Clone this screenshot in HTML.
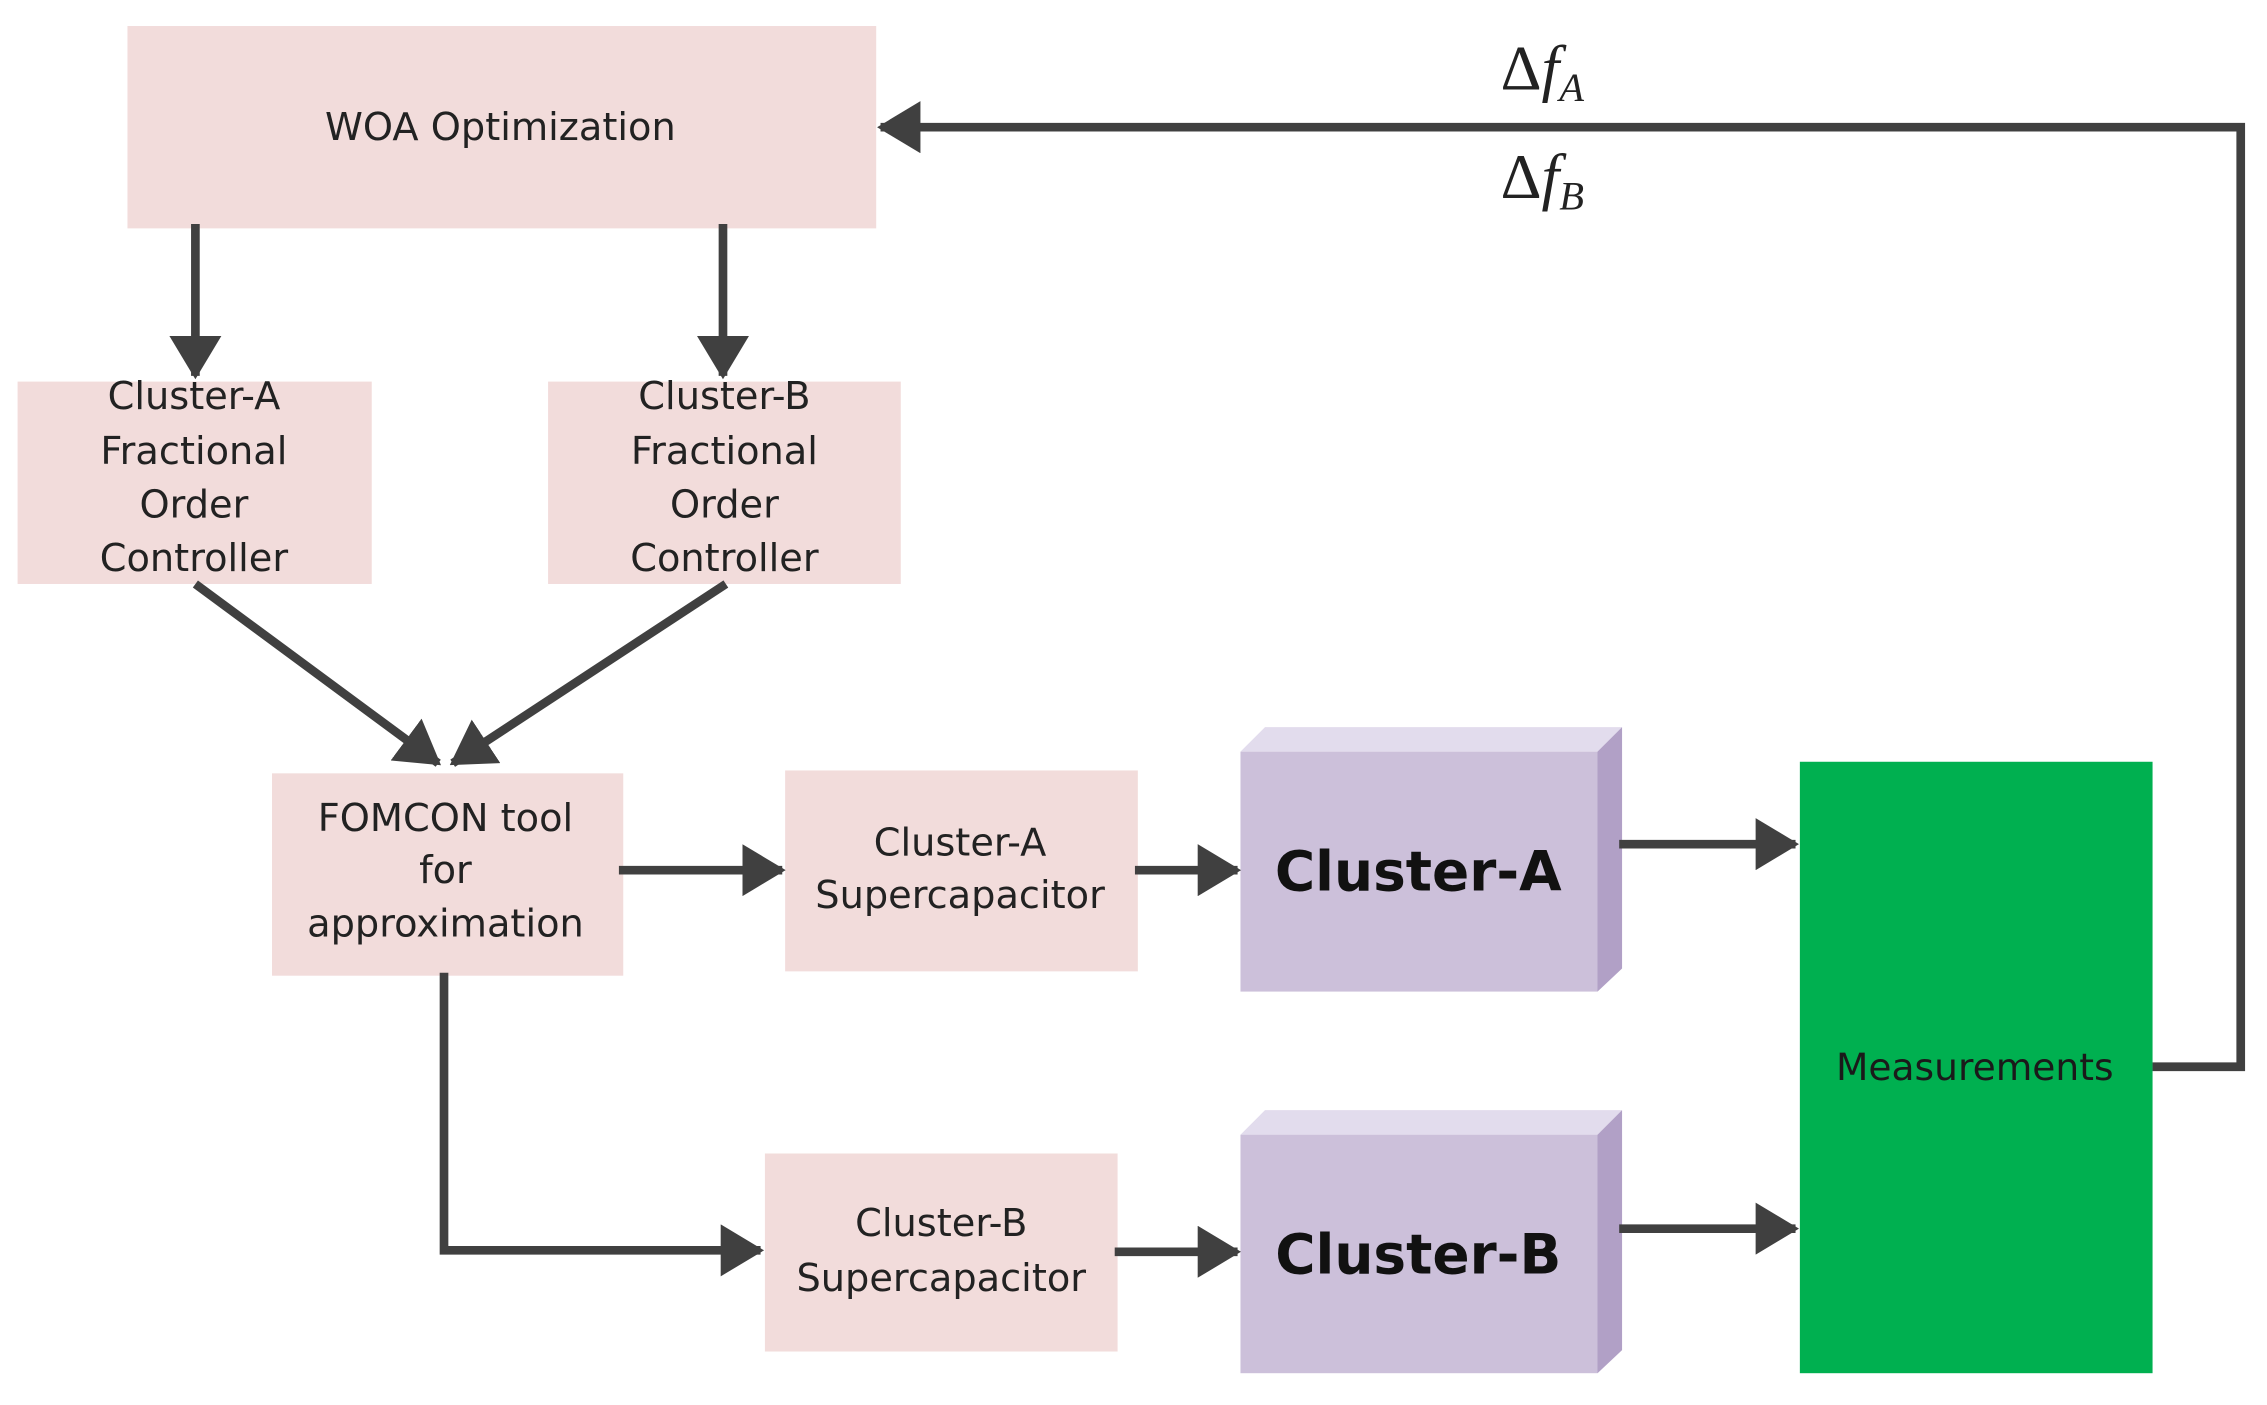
<!DOCTYPE html>
<html><head><meta charset="utf-8"><style>
html,body{margin:0;padding:0;background:#fff;}
svg{display:block;}
.s{font-family:"DejaVu Sans","Liberation Sans",sans-serif;}
.m{font-family:"Liberation Serif",serif;}
</style></head><body>
<svg width="2267" height="1405" viewBox="0 0 1568 972" xmlns="http://www.w3.org/2000/svg">
<defs>
<marker id="ah" markerWidth="5" markerHeight="6" refX="4.6" refY="3" orient="auto" markerUnits="strokeWidth">
<path d="M0,0 L5,3 L0,6 z" fill="#404040"/>
</marker>
</defs>
<rect width="1568" height="972" fill="#fff"/>
<g class="s" font-size="26.5" text-anchor="middle" fill="#222">
<rect x="88" y="18" width="518" height="140" fill="#f2dcdb"/>
<text x="346" y="97">WOA Optimization</text>
<rect x="12" y="264" width="245" height="140" fill="#f2dcdb"/>
<text x="134" y="283">Cluster-A</text><text x="134" y="321">Fractional</text><text x="134" y="358">Order</text><text x="134" y="395">Controller</text>
<rect x="379" y="264" width="244" height="140" fill="#f2dcdb"/>
<text x="501" y="283">Cluster-B</text><text x="501" y="321">Fractional</text><text x="501" y="358">Order</text><text x="501" y="395">Controller</text>
<rect x="188" y="535" width="243" height="140" fill="#f2dcdb"/>
<text x="308" y="575">FOMCON tool</text><text x="308" y="611">for</text><text x="308" y="648">approximation</text>
<rect x="543" y="533" width="244" height="139" fill="#f2dcdb"/>
<text x="664" y="592">Cluster-A</text><text x="664" y="628">Supercapacitor</text>
<rect x="529" y="798" width="244" height="137" fill="#f2dcdb"/>
<text x="651" y="855">Cluster-B</text><text x="651" y="893">Supercapacitor</text>
</g>
<polygon points="858,520 875,503 1122,503 1105,520" fill="#e2dced"/>
<polygon points="1105,520 1122,503 1122,670 1105,686" fill="#b1a0c6"/>
<rect x="858" y="520" width="247" height="166" fill="#ccc0da"/>
<text class="s" x="981" y="616" font-size="38" font-weight="bold" text-anchor="middle" fill="#111">Cluster-A</text>
<polygon points="858,785 875,768 1122,768 1105,785" fill="#e2dced"/>
<polygon points="1105,785 1122,768 1122,934 1105,950" fill="#b1a0c6"/>
<rect x="858" y="785" width="247" height="165" fill="#ccc0da"/>
<text class="s" x="981" y="881" font-size="38" font-weight="bold" text-anchor="middle" fill="#111">Cluster-B</text>
<rect x="1245" y="527" width="244" height="423" fill="#00b050"/>
<text class="s" x="1366" y="747" font-size="26" text-anchor="middle" fill="#1a1a1a">Measurements</text>
<g stroke="#404040" stroke-width="6" fill="none" marker-end="url(#ah)">
<line x1="135" y1="155" x2="135" y2="260"/>
<line x1="500" y1="155" x2="500" y2="260"/>
<line x1="135" y1="404" x2="303" y2="528"/>
<line x1="502" y1="404" x2="313" y2="528"/>
<line x1="428" y1="602" x2="541" y2="602"/>
<line x1="785" y1="602" x2="856" y2="602"/>
<polyline points="307,673 307,865 526,865"/>
<line x1="771" y1="866" x2="856" y2="866"/>
<line x1="1120" y1="584" x2="1242" y2="584"/>
<line x1="1120" y1="850" x2="1242" y2="850"/>
<polyline points="1489,738 1550,738 1550,88 609,88"/>
</g>
<g class="m" font-size="44" fill="#222">
<text x="1038" y="62">Δ<tspan font-style="italic">f</tspan><tspan font-size="28" font-style="italic" dy="8">A</tspan></text>
<text x="1038" y="137">Δ<tspan font-style="italic">f</tspan><tspan font-size="28" font-style="italic" dy="8">B</tspan></text>
</g>
</svg>
</body></html>
